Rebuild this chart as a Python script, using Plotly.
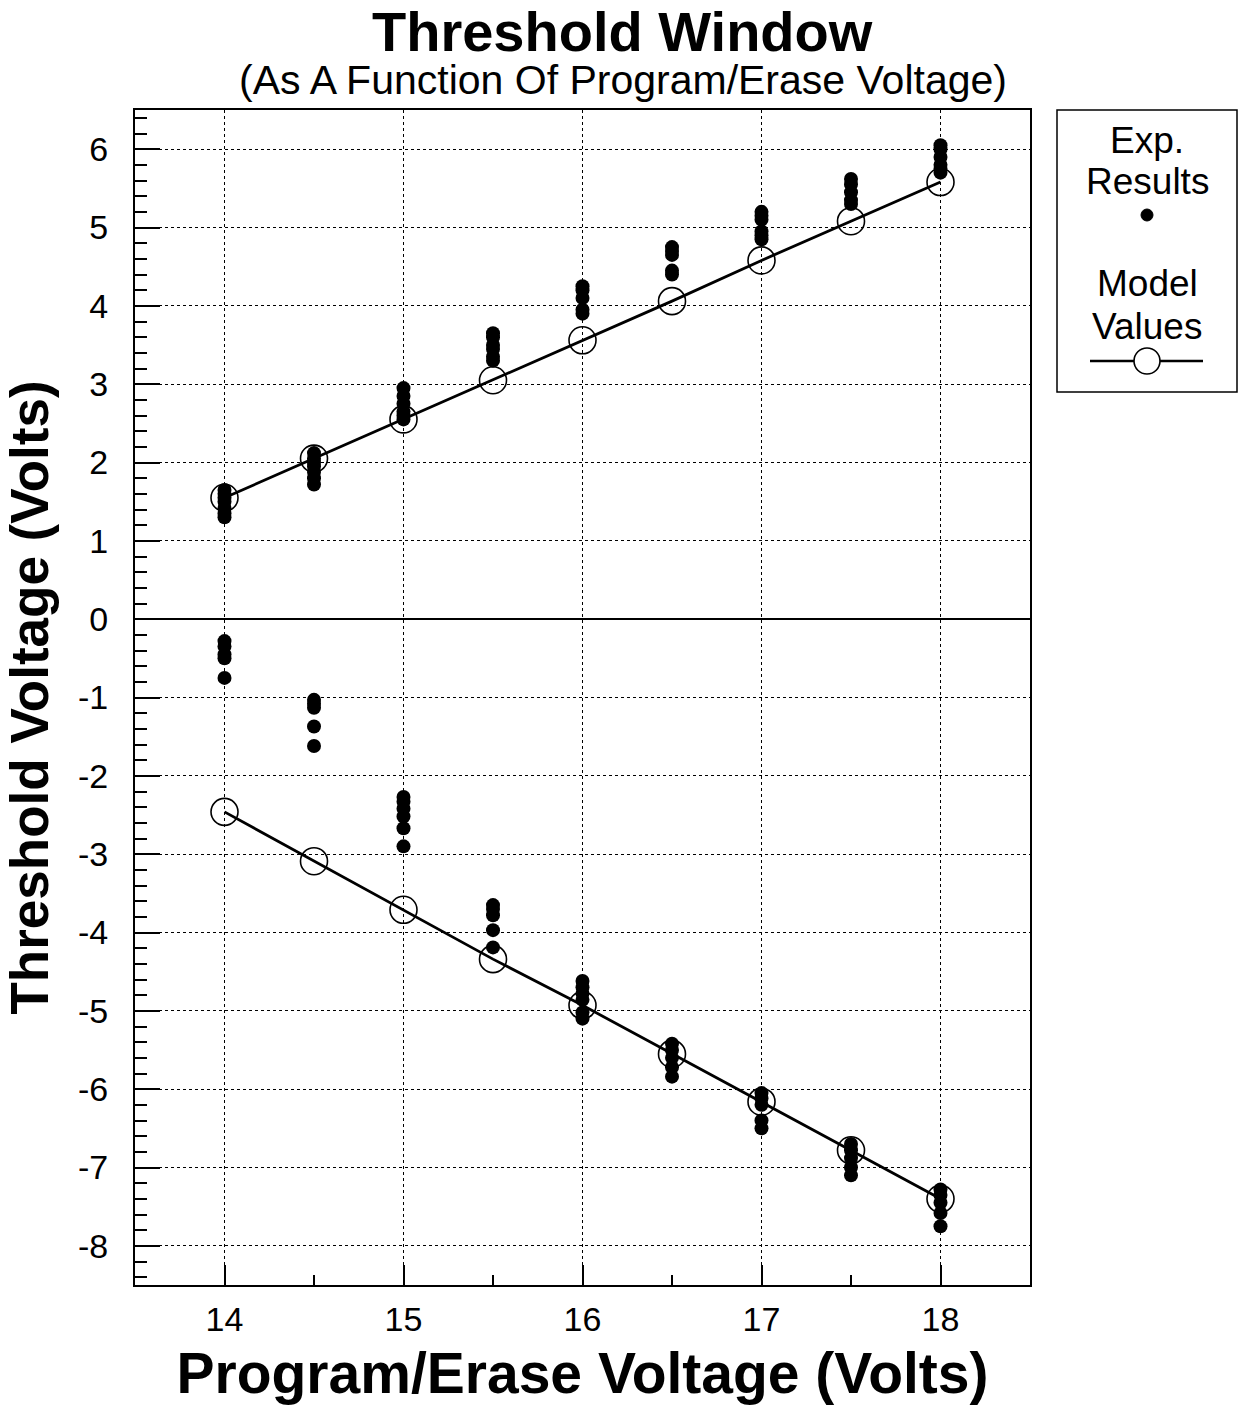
import plotly.graph_objects as go

# ---------------- data ----------------
prog_voltage = [14, 14.5, 15, 15.5, 16, 16.5, 17, 17.5, 18]

model_program = [1.55, 2.05, 2.55, 3.05, 3.56, 4.06, 4.58, 5.08, 5.58]
model_erase = [-2.46, -3.09, -3.71, -4.34, -4.93, -5.55, -6.16, -6.78, -7.40]

exp_program = [
    [1.65, 1.60, 1.55, 1.50, 1.42, 1.35, 1.30],
    [2.12, 2.05, 2.00, 1.95, 1.88, 1.80, 1.72],
    [2.95, 2.85, 2.75, 2.65, 2.60, 2.55],
    [3.65, 3.60, 3.50, 3.45, 3.35, 3.30],
    [4.25, 4.20, 4.10, 3.95, 3.90],
    [4.75, 4.70, 4.65, 4.45, 4.40],
    [5.20, 5.15, 5.10, 4.95, 4.90, 4.85],
    [5.62, 5.55, 5.45, 5.35, 5.30],
    [6.05, 6.00, 5.90, 5.80, 5.75, 5.70],
]
exp_erase = [
    [-0.28, -0.35, -0.45, -0.50, -0.75],
    [-1.03, -1.08, -1.13, -1.37, -1.62],
    [-2.27, -2.33, -2.42, -2.52, -2.67, -2.90],
    [-3.65, -3.70, -3.78, -3.97, -4.19],
    [-4.62, -4.70, -4.78, -4.86, -5.02, -5.10],
    [-5.42, -5.50, -5.60, -5.72, -5.84],
    [-6.05, -6.12, -6.20, -6.40, -6.50],
    [-6.70, -6.78, -6.88, -7.00, -7.10],
    [-7.28, -7.35, -7.45, -7.58, -7.75],
]

x_ticks = [14, 15, 16, 17, 18]
x_ticklabels = ["14", "15", "16", "17", "18"]
y_ticks = [6, 5, 4, 3, 2, 1, 0, -1, -2, -3, -4, -5, -6, -7, -8]
y_ticklabels = ["6", "5", "4", "3", "2", "1", "0", "-1", "-2", "-3", "-4",
                "-5", "-6", "-7", "-8"]

title_text = "Threshold Window"
subtitle_text = "(As A Function Of Program/Erase Voltage)"
x_title = "Program/Erase Voltage (Volts)"
y_title = "Threshold Voltage (Volts)"

# ---------------- figure ----------------
FONT = "Liberation Sans"
L, R, T, B = 135, 213, 110, 120
W, H = 1243, 1405
PW, PH = W - L - R, H - T - B


def px(xp):
    return (xp - L) / PW


def py(yp):
    return (H - B - yp) / PH


fig = go.Figure()

for model in (model_program, model_erase):
    fig.add_trace(go.Scatter(
        x=prog_voltage, y=model, mode="lines+markers",
        line=dict(color="black", width=2.8),
        marker=dict(symbol="circle-open", size=27, color="black",
                    line=dict(width=1.6, color="black")),
        showlegend=False, hoverinfo="skip"))

for group in (exp_program, exp_erase):
    xs, ys = [], []
    for v, vals in zip(prog_voltage, group):
        for val in vals:
            xs.append(v)
            ys.append(val)
    fig.add_trace(go.Scatter(
        x=xs, y=ys, mode="markers",
        marker=dict(symbol="circle", size=14, color="black"),
        showlegend=False, hoverinfo="skip"))

axis_common = dict(
    showline=True, linecolor="black", linewidth=2, mirror=True,
    ticks="inside", tickcolor="black", tickwidth=2,
    showgrid=True, gridcolor="black", gridwidth=1, griddash="dot",
    tickfont=dict(family=FONT, size=34, color="black"),
)

fig.update_xaxes(
    range=[13.5, 18.5], tickvals=x_ticks, ticktext=x_ticklabels,
    ticklen=20, ticklabelstandoff=3, zeroline=False,
    minor=dict(dtick=0.5, tick0=14, ticks="inside", ticklen=10,
               tickcolor="black", tickwidth=2, showgrid=False),
    title=dict(text="<b>" + x_title + "</b>", standoff=18,
               font=dict(family=FONT, size=57, color="black")),
    **axis_common)

fig.update_yaxes(
    range=[-8.5, 6.5], tickvals=y_ticks, ticktext=y_ticklabels,
    ticklen=25, ticklabelstandoff=18,
    zeroline=True, zerolinecolor="black", zerolinewidth=2,
    minor=dict(dtick=0.2, tick0=0, ticks="inside", ticklen=12,
               tickcolor="black", tickwidth=1.5, showgrid=False),
    title=dict(text="<b>" + y_title + "</b>", standoff=16,
               font=dict(family=FONT, size=53, color="black")),
    **axis_common)

annotations = [
    dict(text="<b>" + title_text + "</b>", x=px(622), y=py(32),
         font=dict(family=FONT, size=56, color="black")),
    dict(text=subtitle_text, x=px(623), y=py(80),
         font=dict(family=FONT, size=41, color="black")),
    dict(text="Exp.", x=px(1147), y=py(140),
         font=dict(family=FONT, size=37, color="black")),
    dict(text="Results", x=px(1147), y=py(182),
         font=dict(family=FONT, size=37, color="black")),
    dict(text="Model", x=px(1147), y=py(284),
         font=dict(family=FONT, size=37, color="black")),
    dict(text="Values", x=px(1147), y=py(326),
         font=dict(family=FONT, size=37, color="black")),
]
for a in annotations:
    a.update(xref="paper", yref="paper", showarrow=False,
             xanchor="center", yanchor="middle")

shapes = [
    dict(type="rect", xref="paper", yref="paper",
         x0=px(1057), x1=px(1237), y0=py(392), y1=py(110),
         line=dict(color="black", width=1.5), fillcolor="white", layer="below"),
    dict(type="circle", xref="paper", yref="paper",
         xsizemode="pixel", ysizemode="pixel",
         xanchor=px(1147), yanchor=py(215),
         x0=-6, x1=6, y0=-6, y1=6,
         line=dict(color="black", width=1), fillcolor="black"),
    dict(type="line", xref="paper", yref="paper",
         x0=px(1090), x1=px(1203), y0=py(361), y1=py(361),
         line=dict(color="black", width=2.4)),
    dict(type="circle", xref="paper", yref="paper",
         xsizemode="pixel", ysizemode="pixel",
         xanchor=px(1147), yanchor=py(361),
         x0=-13, x1=13, y0=-13, y1=13,
         line=dict(color="black", width=1.6), fillcolor="white"),
]

fig.update_layout(
    width=W, height=H,
    margin=dict(l=L, r=R, t=T, b=B, autoexpand=False),
    paper_bgcolor="white", plot_bgcolor="white",
    annotations=annotations, shapes=shapes,
    showlegend=False,
    font=dict(family=FONT, color="black"),
)

fig.write_html("out.html",
               config={"displayModeBar": False},
               post_script="document.body.style.margin='0';")
